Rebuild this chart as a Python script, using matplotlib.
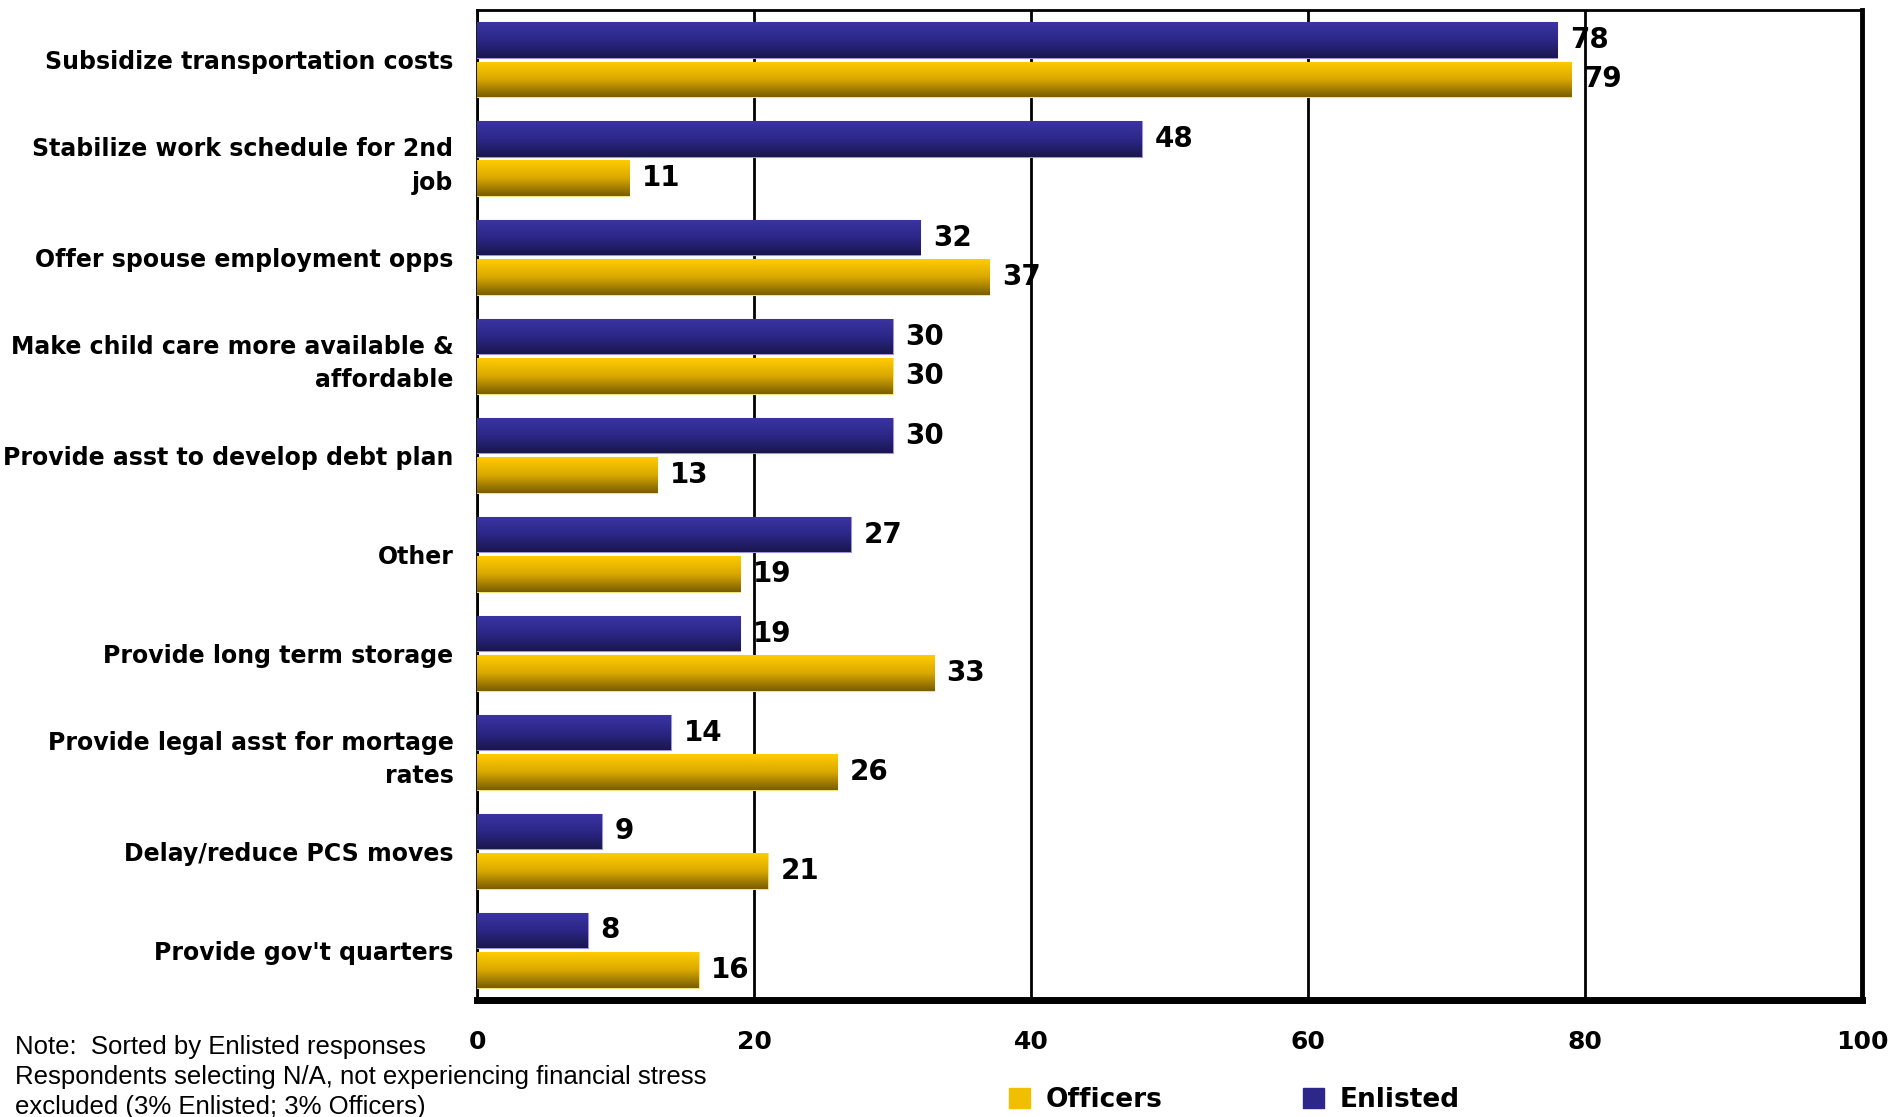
import matplotlib
matplotlib.use('Agg')
import matplotlib.pyplot as plt
from matplotlib.colors import LinearSegmentedColormap
from matplotlib.patches import Patch
import numpy as np

categories = [
    'Subsidize transportation costs',
    'Stabilize work schedule for 2nd\njob',
    'Offer spouse employment opps',
    'Make child care more available &\naffordable',
    'Provide asst to develop debt plan',
    'Other',
    'Provide long term storage',
    'Provide legal asst for mortage\nrates',
    'Delay/reduce PCS moves',
    "Provide gov't quarters",
]
enlisted = [78, 48, 32, 30, 30, 27, 19, 14, 9, 8]
officers = [79, 11, 37, 30, 13, 19, 33, 26, 21, 16]
x_ticks = [0, 20, 40, 60, 80, 100]
note_lines = [
    'Note:  Sorted by Enlisted responses',
    'Respondents selecting N/A, not experiencing financial stress',
    'excluded (3% Enlisted; 3% Officers)',
]

navy_cmap = LinearSegmentedColormap.from_list('navy', ['#3b34a3', '#2c2788', '#1a174e'])
gold_cmap = LinearSegmentedColormap.from_list('gold', ['#ffcc00', '#d9a800', '#7a5e00'])

fig = plt.figure(figsize=(18.93, 11.17), dpi=100)
ax = fig.add_axes([0.252, 0.105, 0.7316, 0.886])

y = np.arange(len(categories))
h = 0.36
off = 0.2
bars_e = ax.barh(y - off, enlisted, height=h, color='#2c2788', edgecolor='#9c98d8', linewidth=0.8, zorder=3)
bars_o = ax.barh(y + off, officers, height=h, color='#e0b000', edgecolor='#f5e27a', linewidth=0.8, zorder=3)

# vertical gradient inside each bar
grad = np.linspace(0, 1, 64).reshape(-1, 1)
for bars, cmap in [(bars_e, navy_cmap), (bars_o, gold_cmap)]:
    for b in bars:
        x0, y0, w, hh = b.get_x(), b.get_y(), b.get_width(), b.get_height()
        im = ax.imshow(grad, cmap=cmap, aspect='auto', origin='upper',
                       extent=(x0, x0 + w, y0 + hh, y0), zorder=3.5)
        im.set_clip_path(b)

for bars, vals in [(bars_e, enlisted), (bars_o, officers)]:
    for b, v in zip(bars, vals):
        ax.annotate(str(v), (b.get_width(), b.get_y() + b.get_height() / 2),
                    xytext=(9, 0), textcoords='offset points', va='center', ha='left',
                    fontsize=20, fontweight='bold', color='black', zorder=5)

ax.set_xlim(0, 100)
ax.set_ylim(len(categories) - 0.5, -0.5)
ax.set_xticks(x_ticks)
ax.set_xticklabels([str(t) for t in x_ticks], fontsize=18, fontweight='bold')
ax.tick_params(axis='x', length=0, pad=22)
ax.set_yticks(y)
ax.set_yticklabels(categories, fontsize=17, fontweight='bold', linespacing=1.5)
ax.tick_params(axis='y', length=0, pad=17)

ax.grid(axis='x', color='black', linewidth=2, zorder=1)
for s in ['top', 'left']:
    ax.spines[s].set_linewidth(2)
ax.spines['right'].set_linewidth(3.5)
ax.spines['bottom'].set_linewidth(5)

handles = [Patch(facecolor='#f0c000', edgecolor='#f0c000'), Patch(facecolor='#2c2788', edgecolor='#2c2788')]
fig.legend(handles, ['Officers', 'Enlisted'], loc='center', bbox_to_anchor=(0.652, 0.015),
           ncol=2, frameon=False, prop={'weight': 'bold', 'size': 19},
           handlelength=0.8, handleheight=0.8, handletextpad=0.6, columnspacing=5.3)

# note lines as separate texts so the first stays clear of the "0" tick label
for i, line in enumerate(note_lines):
    fig.text(0.008, 0.063 - i * 0.0268, line, fontsize=18.5, family='Liberation Sans',
             va='center', ha='left')

fig.savefig('out.png', dpi=100)
plt.close(fig)
